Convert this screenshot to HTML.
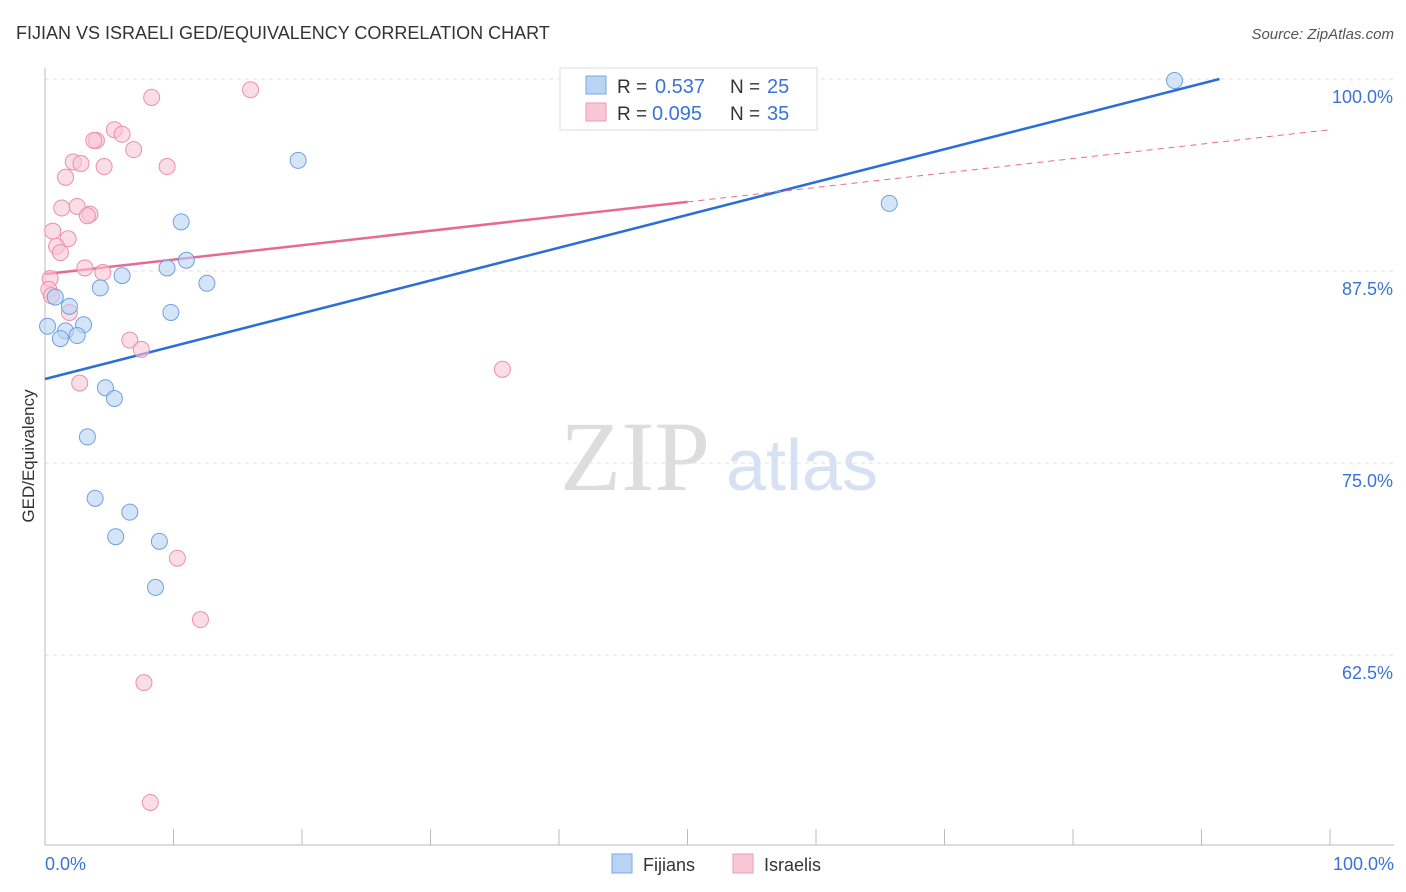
<!DOCTYPE html>
<html><head><meta charset="utf-8"><style>
body{margin:0;background:#fff;font-family:"Liberation Sans",sans-serif}
svg{display:block}
</style></head><body>
<svg width="1406" height="892" xmlns="http://www.w3.org/2000/svg">
<text x="16" y="39" font-size="18" fill="#333">FIJIAN VS ISRAELI GED/EQUIVALENCY CORRELATION CHART</text>
<text x="1394" y="39" font-size="15" fill="#555" font-style="italic" text-anchor="end">Source: ZipAtlas.com</text>
<g>
<text x="635" y="490" font-size="100" fill="#ddd" font-family="Liberation Serif,serif" text-anchor="middle">ZIP</text>
<text x="802" y="490" font-size="72" fill="#d6e2f3" text-anchor="middle">atlas</text>
</g>
<g id="grid"></g>
<g id="axes"></g>
<g id="trends"></g>
<g id="points"></g>
<text transform="translate(34,456) rotate(-90)" font-size="17" fill="#333" text-anchor="middle">GED/Equivalency</text>
<text x="45" y="870" font-size="18" fill="#3a72d8">0.0%</text>
<text x="1394" y="870" font-size="18" fill="#3a72d8" text-anchor="end">100.0%</text>
<g>
<rect x="560" y="68" width="257" height="62" fill="#fff" stroke="#ddd"/>
<rect x="586" y="76" width="20" height="18" fill="#b9d3f5" stroke="#7aa7e6"/>
<rect x="586" y="103" width="20" height="18" fill="#f9c6d5" stroke="#ef9ab4"/>
<text x="617" y="93" font-size="19" fill="#333">R =</text>
<text x="655" y="93" font-size="20" fill="#3a72d8">0.537</text>
<text x="730" y="93" font-size="19" fill="#333">N =</text>
<text x="767" y="93" font-size="20" fill="#3a72d8">25</text>
<text x="617" y="120" font-size="19" fill="#333">R =</text>
<text x="652" y="120" font-size="20" fill="#3a72d8">0.095</text>
<text x="730" y="120" font-size="19" fill="#333">N =</text>
<text x="767" y="120" font-size="20" fill="#3a72d8">35</text>
</g>
<g>
<rect x="612" y="854" width="20" height="19" fill="#b9d3f5" stroke="#7aa7e6"/>
<text x="643" y="871" font-size="18" fill="#333">Fijians</text></g>
<g>
<rect x="733" y="854" width="20" height="19" fill="#f9c6d5" stroke="#ef9ab4"/>
<text x="764" y="871" font-size="18" fill="#333">Israelis</text></g>
</svg>
<script>
const yTicks=[100,87.5,75,62.5];
const yTickLabels=["100.0%","87.5%","75.0%","62.5%"];
const xTicks=[0,10,20,30,40,50,60,70,80,90,100];
const fijX=[87.9,65.7,19.7,10.6,11.0,9.5,6.0,12.6,4.3,0.8,1.9,9.8,3.0,0.2,1.6,2.5,1.2,4.7,5.4,3.3,3.9,6.6,5.5,8.9,8.6];
const fijY=[99.9,91.9,94.7,90.7,88.2,87.7,87.2,86.7,86.4,85.8,85.2,84.8,84.0,83.9,83.6,83.3,83.1,79.9,79.2,76.7,72.7,71.8,70.2,69.9,66.9];
const isrX=[45.4,16.0,8.3,5.4,6.0,4.0,3.8,6.9,2.2,2.8,4.6,9.5,1.6,2.5,1.3,3.5,3.3,0.6,1.8,0.9,1.2,3.1,4.5,0.4,0.3,0.5,1.9,6.6,7.5,2.7,35.6,10.3,12.1,7.7,8.2];
const isrY=[99.9,99.3,98.8,96.7,96.4,96.0,96.0,95.4,94.6,94.5,94.3,94.3,93.6,91.7,91.6,91.2,91.1,90.1,89.6,89.1,88.7,87.7,87.4,87.0,86.3,85.9,84.8,83.0,82.4,80.2,81.1,68.8,64.8,60.7,52.9];
const fijTrend=[80.47,100.0,91.4];
const isrTrend=[87.3,96.7];
const NS="http://www.w3.org/2000/svg";
const sx=v=>45+v*12.85, sy=v=>79+(100-v)*15.36;
function mk(t,a,p){const e=document.createElementNS(NS,t);for(const k in a)e.setAttribute(k,a[k]);document.getElementById(p).appendChild(e);return e;}
yTicks.forEach((t,i)=>{
 const l=mk('line',{x1:45,x2:1394,y1:sy(t),y2:sy(t),stroke:'#e2e2e2','stroke-dasharray':'4,4'},'grid');
 
 
 const tx=mk('text',{x:1393,y:sy(t)+24,'font-size':18,fill:'#3a72d8','text-anchor':'end'},'grid');
 tx.textContent=yTickLabels[i];
 
 
});
const ax=mk('line',{x1:45,x2:45,y1:68,y2:845,stroke:'#bbb'},'axes');


const bx=mk('line',{x1:45,x2:1394,y1:845,y2:845,stroke:'#bbb'},'axes');


xTicks.forEach(t=>{const l=mk('line',{x1:sx(t),x2:sx(t),y1:829,y2:845,stroke:'#bbb'},'axes');
 
 });
function pts(X,Y,fill,stroke,name){X.forEach((x,i)=>{const c=mk('circle',{cx:sx(x),cy:sy(Y[i]),r:8,fill:fill,stroke:stroke,'stroke-width':1,'fill-opacity':0.6},'points');
 
 });}
pts(isrX,isrY,'#f9c6d5','#ec8fac','israeli-point');
pts(fijX,fijY,'#b9d3f5','#6f9fe2','fijian-point');
const fl=mk('line',{x1:sx(0),y1:sy(fijTrend[0]),x2:sx(fijTrend[2]),y2:sy(fijTrend[1]),stroke:'#2a6fd6','stroke-width':2.5},'trends');


const isAt=x=>isrTrend[0]+(isrTrend[1]-isrTrend[0])*x/100;
const il=mk('line',{x1:sx(0),y1:sy(isAt(0)),x2:sx(50),y2:sy(isAt(50)),stroke:'#e86a93','stroke-width':2.5},'trends');


const id=mk('line',{x1:sx(50),y1:sy(isAt(50)),x2:sx(100),y2:sy(isAt(100)),stroke:'#e86a93','stroke-width':1,'stroke-dasharray':'6,5'},'trends');


</script>
</body></html>
